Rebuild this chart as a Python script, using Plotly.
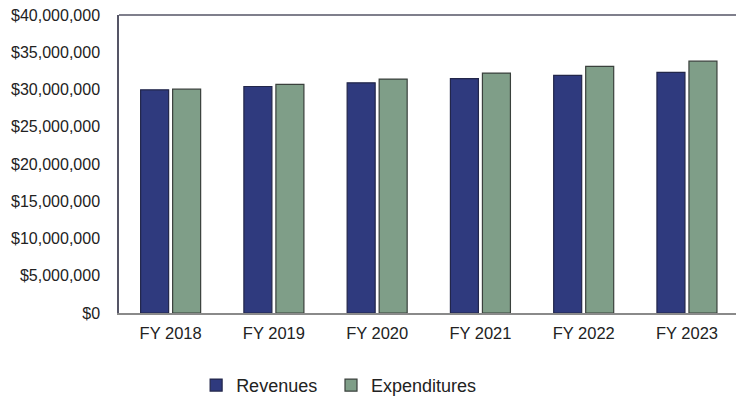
import plotly.graph_objects as go

years = ["FY 2018", "FY 2019", "FY 2020", "FY 2021", "FY 2022", "FY 2023"]
revenues = [29_950_000, 30_400_000, 30_900_000, 31_450_000, 31_900_000, 32_300_000]
expenditures = [30_050_000, 30_700_000, 31_400_000, 32_200_000, 33_100_000, 33_800_000]
y_ticks = list(range(0, 40_000_001, 5_000_000))

fig = go.Figure()
fig.add_trace(go.Bar(
    name="Revenues", x=years, y=revenues, legend="legend",
    marker=dict(color="#2f3a7e", line=dict(color="#22264a", width=1.2)),
))
fig.add_trace(go.Bar(
    name="Expenditures", x=years, y=expenditures, legend="legend2",
    marker=dict(color="#7f9e88", line=dict(color="#3a403c", width=1.2)),
))

legend_style = dict(
    orientation="h", xanchor="left", y=-0.243, yanchor="middle",
    font=dict(size=18, color="#222222"), itemwidth=30,
)

fig.update_layout(
    width=736, height=401,
    margin=dict(l=119, r=0, t=15, b=88, autoexpand=False),
    paper_bgcolor="white", plot_bgcolor="white",
    barmode="group", bargap=0.38, bargroupgap=0.125,
    font=dict(family="Liberation Sans, Arial, sans-serif", size=16, color="#222222"),
    showlegend=True,
    legend=dict(x=0.125, **legend_style),
    legend2=dict(x=0.3436, **legend_style),
    shapes=[dict(type="line", xref="paper", yref="paper", x0=0, x1=1, y0=1, y1=1,
                 line=dict(color="#555566", width=1.5))],
)
fig.update_xaxes(
    range=[-0.5, 5.475], showgrid=False, showline=True, linecolor="#8a8a8a",
    linewidth=1.5, ticks="", ticklabelstandoff=4, automargin=False,
    tickfont=dict(size=16.5),
)
fig.update_yaxes(
    range=[0, 40_000_000], tickvals=y_ticks, tickformat="$,.0f",
    showgrid=False, zeroline=False, showline=True, linecolor="#555566",
    linewidth=1.5, ticks="", ticklabelstandoff=14, automargin=False,
    tickfont=dict(size=16),
)

fig.write_html("out.html")
